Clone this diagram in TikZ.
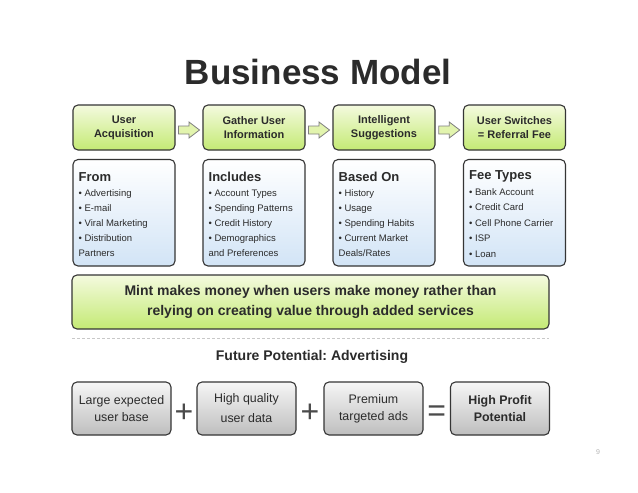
\documentclass[tikz,border=0pt]{standalone}
\usepackage{fontspec}
\setmainfont{Liberation Sans}
\usetikzlibrary{calc}
\frenchspacing
\definecolor{greenTop}{HTML}{F4FADF}
\definecolor{greenBot}{HTML}{C4EA74}
\definecolor{blueTop}{HTML}{FFFFFF}
\definecolor{blueBot}{HTML}{D2E4F6}
\definecolor{grayTop}{HTML}{F6F6F6}
\definecolor{grayBot}{HTML}{BEBEBE}
\definecolor{edge}{HTML}{353535}
\definecolor{ink}{HTML}{2B2B2B}
\definecolor{arrowFill}{HTML}{E2F4AE}
\definecolor{arrowEdge}{HTML}{7F7F7F}
\definecolor{dashGray}{HTML}{C8C8C8}
\definecolor{pageGray}{HTML}{B5B5B5}
\tikzset{
  boxbase/.style={draw=edge, line width=1.1pt, rounded corners=5pt, inner sep=0pt},
  greenbox/.style={boxbase, top color=greenTop, bottom color=greenBot,
    minimum width=102pt, minimum height=45pt, align=center, text=ink,
    font=\fontsize{11}{14}\selectfont\bfseries},
  bluebox/.style={boxbase, top color=blueTop, bottom color=blueBot,
    minimum width=102pt, minimum height=106.5pt},
  graybox/.style={boxbase, top color=grayTop, bottom color=grayBot,
    minimum width=99pt, minimum height=53pt, align=center, text=ink,
    font=\fontsize{12.4}{17}\selectfont},
  bigbox/.style={boxbase, top color=greenTop, bottom color=greenBot,
    minimum width=477pt, minimum height=54pt, align=center, text=ink,
    font=\fontsize{14}{19.5}\selectfont\bfseries},
  listtext/.style={anchor=north west, inner sep=0pt, align=left, text=ink,
    font=\fontsize{9.5}{15}\selectfont},
  flowarrow/.style={draw=arrowEdge, fill=arrowFill, line width=0.8pt, line join=miter},
  opsign/.style={inner sep=0pt, text=ink!85, font=\fontsize{32}{32}\selectfont},
}
\newcommand{\hd}[1]{{\fontsize{13}{15}\selectfont\bfseries #1}}
\newcommand{\flowarrowat}[1]{%
  \draw[flowarrow] ($(#1)+(-10.5,-4)$) -- ($(#1)+(0,-4)$) -- ($(#1)+(0,-8)$) --
    ($(#1)+(10.5,0)$) -- ($(#1)+(0,8)$) -- ($(#1)+(0,4)$) -- ($(#1)+(-10.5,4)$) -- cycle;}
\begin{document}
\begin{tikzpicture}[x=1pt,y=-1pt]
\useasboundingbox[fill=white] (0,0) rectangle (638,493);

\node[anchor=base, text=ink, font=\fontsize{35}{35}\selectfont\bfseries] (title) at (318,84) {Business Model};

% top green boxes
\node[greenbox] (g1) at (124,127.5) {User\\Acquisition};
\node[greenbox] (g2) at (254,127.5) {Gather User\\Information};
\node[greenbox] (g3) at (384,127.5) {Intelligent\\Suggestions};
\node[greenbox] (g4) at (514.5,127.5) {User Switches\\= Referral Fee};

% arrows
\coordinate (a1) at ($(g1.east)!0.5!(g2.west)+(0,2.5)$);
\coordinate (a2) at ($(g2.east)!0.5!(g3.west)+(0,2.5)$);
\coordinate (a3) at ($(g3.east)!0.5!(g4.west)+(0,2.5)$);
\flowarrowat{a1}
\flowarrowat{a2}
\flowarrowat{a3}

% blue boxes
\node[bluebox] (b1) at (124,212.75) {};
\node[bluebox] (b2) at (254,212.75) {};
\node[bluebox] (b3) at (384,212.75) {};
\node[bluebox] (b4) at (514.5,212.75) {};

\node[listtext] (t1) at ($(b1.north west)+(6,13)$) {\hd{From}\\• Advertising\\• E-mail\\• Viral Marketing\\• Distribution\\Partners};
\node[listtext] (t2) at ($(b2.north west)+(6,13)$) {\hd{Includes}\\• Account Types\\• Spending Patterns\\• Credit History\\• Demographics\\and Preferences};
\node[listtext] (t3) at ($(b3.north west)+(6,13)$) {\hd{Based On}\\• History\\• Usage\\• Spending Habits\\• Current Market\\Deals/Rates};
\node[listtext, font=\fontsize{9.5}{15.5}\selectfont] (t4) at ($(b4.north west)+(6,11.5)$) {\hd{Fee Types}\\• Bank Account\\• Credit Card\\• Cell Phone Carrier\\• ISP\\• Loan};

% big statement box
\node[bigbox] (big) at (310.5,302) {Mint makes money when users make money rather than\\relying on creating value through added services};

% dashed separator
\coordinate (dl) at (72,338);
\coordinate (dr) at (549,338);
\draw[dashGray, line width=0.7pt, dash pattern=on 3pt off 2pt] (dl) -- (dr);

\node[text=ink, font=\fontsize{14}{14}\selectfont\bfseries] (future) at (312,357) {Future Potential: Advertising};

% bottom boxes
\node[graybox] (c1) at (121.5,408.5) {Large expected\\user base};
\node[graybox, font=\fontsize{12.4}{20}\selectfont] (c2) at (246.5,408.5) {High quality\\user data};
\node[graybox] (c3) at (373.5,408.5) {Premium\\targeted ads};
\node[graybox, font=\fontsize{12.4}{17}\selectfont\bfseries] (c4) at (500,408.5) {High Profit\\Potential};

\node[opsign] (p1) at ($(c1.east)!0.5!(c2.west)+(0,5)$) {+};
\node[opsign] (p2) at ($(c2.east)!0.5!(c3.west)+(0,5)$) {+};
\node[opsign] (eq) at ($(c3.east)!0.5!(c4.west)+(0,5)$) {=};

\node[text=pageGray, font=\fontsize{7}{7}\selectfont] (page) at (598,452) {9};
\end{tikzpicture}
\end{document}
